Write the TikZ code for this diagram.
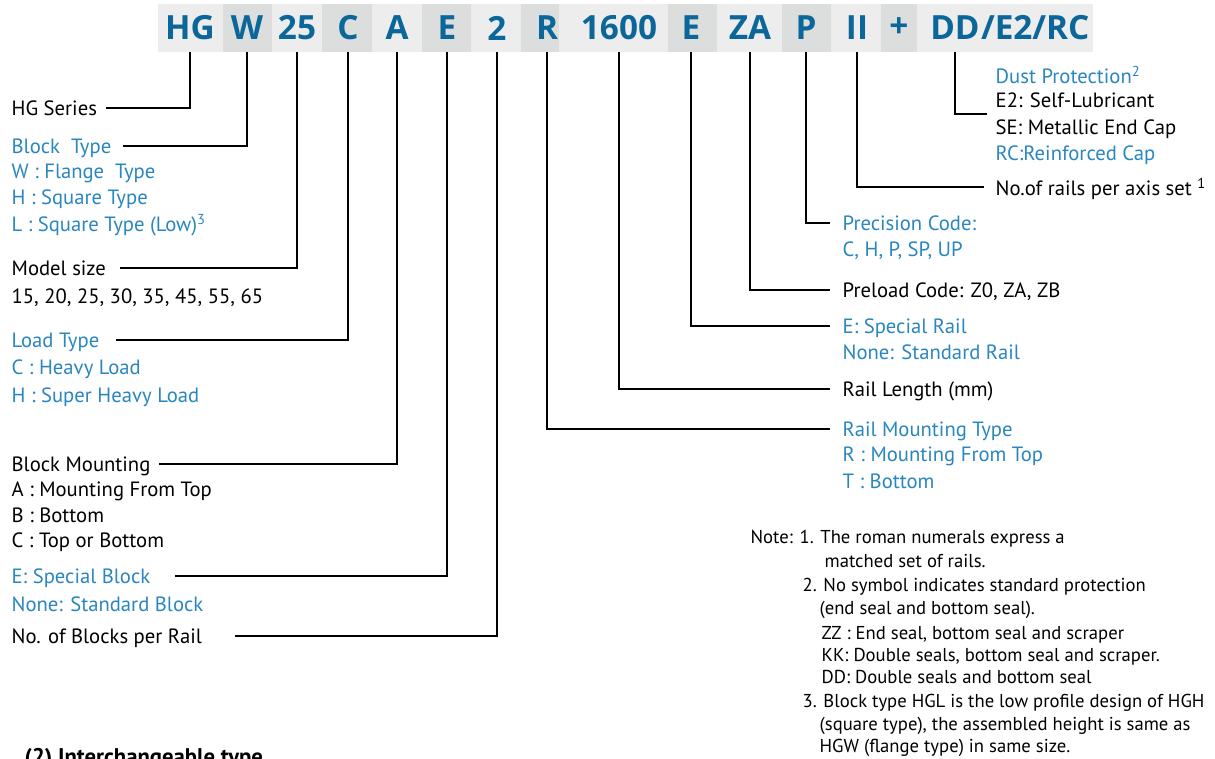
\documentclass[tikz,border=0pt]{standalone}
\usepackage{fontspec}
\setmainfont{PT Sans}
\newfontfamily\codefont{Open Sans}
\definecolor{codeblue}{RGB}{11,102,153}
\definecolor{lblblue}{RGB}{41,134,190}
\definecolor{barlight}{RGB}{237,237,237}
\definecolor{bardark}{RGB}{220,222,221}
\tikzset{every picture/.style={line width=1pt}}
\tikzset{
	code/.style={text=codeblue, inner sep=0pt, font=\codefont\bfseries\fontsize{25}{28}\selectfont},
	lbl/.style={anchor=west, inner sep=0pt, text depth=0pt, font=\fontsize{15.5}{18}\selectfont},
	blbl/.style={lbl, text=lblblue},
	notetxt/.style={anchor=west, inner sep=0pt, text depth=0pt, font=\fontsize{14}{16}\selectfont},
}

\begin{document}
\begin{tikzpicture}[x=0.75pt,y=0.75pt,yscale=-1,xscale=1]
	\useasboundingbox (0,0) rectangle (1215,758);
	
	%Code bar
	\fill[barlight] (158,4) rectangle (1093,52);
	\foreach \a/\b in {223/272, 322/372, 422/471, 521/559, 668/717, 782/831, 881/917}
		\fill[bardark] (\a,4) rectangle (\b,52);
	\coordinate (barbot) at (0,52);
	
	% Code letters
	\node[code] (t-hg) at (190,28) {HG};
	\node[code] (t-w) at (247,28) {W};
	\node[code] (t-25) at (297,28) {25};
	\node[code] (t-c) at (348,28) {C};
	\node[code] (t-a) at (397,28) {A};
	\node[code] (t-e) at (447,28) {E};
	\node[code] (t-2) at (497,28) {2};
	\node[code] (t-r) at (547,28) {R};
	\node[code] (t-len) at (619,28) {1600};
	\node[code] (t-er) at (691,28) {E};
	\node[code] (t-za) at (750,28) {ZA};
	\node[code] (t-p) at (806,28) {P};
	\node[code] (t-ii) at (857,28) {II};
	\node[code] (t-plus) at (899,28) {+};
	\node[code] (t-dd) at (955,28) {DD};
	\node[code, anchor=west] (t-erc) at (t-dd.east) {/E2/RC};
	
	% Left labels
	\node[lbl] (hgser) at (11,108) {HG Series};
	\node[blbl] (btype) at (11,146) {Block\ \ Type};
	\node[blbl] (btype1) at (11,171) {W : Flange\ \ Type};
	\node[blbl] (btype2) at (11,197) {H : Square Type};
	\node[blbl] (btype3) at (11,223) {L : Square Type (Low)\textsuperscript{3}};
	\node[lbl] (msize) at (11,268) {Model size};
	\node[lbl] (msize1) at (11,296) {15, 20, 25, 30, 35, 45, 55, 65};
	\node[blbl] (ltype) at (11,340) {Load Type};
	\node[blbl] (ltype1) at (11,367) {C : Heavy Load};
	\node[blbl] (ltype2) at (11,395) {H : Super Heavy Load};
	\node[lbl] (bmount) at (11,464) {Block Mounting};
	\node[lbl] (bmount1) at (11,489) {A : Mounting From Top};
	\node[lbl] (bmount2) at (11,515) {B : Bottom};
	\node[lbl] (bmount3) at (11,540) {C : Top or Bottom};
	\node[blbl] (sblock) at (11,576) {E: Special Block};
	\node[blbl] (nblock) at (11,604) {None: Standard Block};
	\node[lbl] (nblocks) at (11,636) {No. of Blocks per Rail};
	
	% Right labels
	\node[blbl] (dust) at (995,75) {Dust Protection\textsuperscript{2}};
	\node[lbl] (dust1) at (995,100) {E2: Self-Lubricant};
	\node[lbl] (dust2) at (995,127) {SE: Metallic End Cap};
	\node[blbl] (dust3) at (995,153) {RC:Reinforced Cap};
	\coordinate (dustend) at (987,114);
	\node[lbl] (rails) at (995,187) {No.of rails per axis set \textsuperscript{1}};
	\node[blbl] (prec) at (842,223) {Precision Code:};
	\node[blbl] (prec1) at (842,249) {C, H, P, SP, UP};
	\node[lbl] (preload) at (842,290) {Preload Code: Z0, ZA, ZB};
	\node[blbl] (srail) at (842,326) {E: Special Rail};
	\node[blbl] (nrail) at (842,352) {None: Standard Rail};
	\node[lbl] (rlen) at (842,389) {Rail Length (mm)};
	\node[blbl] (rmount) at (842,429) {Rail Mounting Type};
	\node[blbl] (rmount1) at (842,454) {R : Mounting From Top};
	\node[blbl] (rmount2) at (842,481) {T : Bottom};
	
	% Connectors left
	\draw (t-hg |- barbot) |- ([xshift=6]hgser.east);
	\draw (t-w |- barbot) |- ([xshift=8]btype.east);
	\draw (t-25 |- barbot) |- ([xshift=10]msize.east);
	\draw (t-c |- barbot) |- ([xshift=12]ltype.east);
	\draw (t-a |- barbot) |- ([xshift=6]bmount.east);
	\draw (t-e |- barbot) |- ([xshift=18]sblock.east);
	\draw (t-2 |- barbot) |- ([xshift=24]nblocks.east);
	
	% Connectors right
	\draw (t-r |- barbot) |- ([xshift=-9]rmount.west);
	\draw (t-len |- barbot) |- ([xshift=-9]rlen.west);
	\draw (t-er |- barbot) |- ([xshift=-9]srail.west);
	\draw (t-za |- barbot) |- ([xshift=-9]preload.west);
	\draw (t-p |- barbot) |- ([xshift=-9]prec.west);
	\draw (t-ii |- barbot) |- ([xshift=-8]rails.west);
	\draw (t-dd |- barbot) |- (dustend);
	
	% Notes
	\node[notetxt] (note1) at (750,537) {Note: 1. The roman numerals express a};
	\node[notetxt] (note1b) at (824,561) {matched set of rails.};
	\node[notetxt] (note2) at (802,585) {2. No symbol indicates standard protection};
	\node[notetxt] (note2b) at (819,608) {(end seal and bottom seal).};
	\node[notetxt] (note2c) at (821,633) {ZZ : End seal, bottom seal and scraper};
	\node[notetxt] (note2d) at (821,655) {KK: Double seals, bottom seal and scraper.};
	\node[notetxt] (note2e) at (821,677) {DD: Double seals and bottom seal};
	\node[notetxt] (note3) at (802,701) {3. Block type HGL is the low profile design of HGH};
	\node[notetxt] (note3b) at (819,724) {(square type), the assembled height is same as};
	\node[notetxt] (note3c) at (819,746) {HGW (flange type) in same size.};
	
	% Next section heading, cut off at the bottom
	\node[anchor=north west, inner sep=0pt, font=\bfseries\fontsize{17}{20}\selectfont] (nexthead) at (24,748) {(2) Interchangeable type};
	
\end{tikzpicture}
\end{document}
